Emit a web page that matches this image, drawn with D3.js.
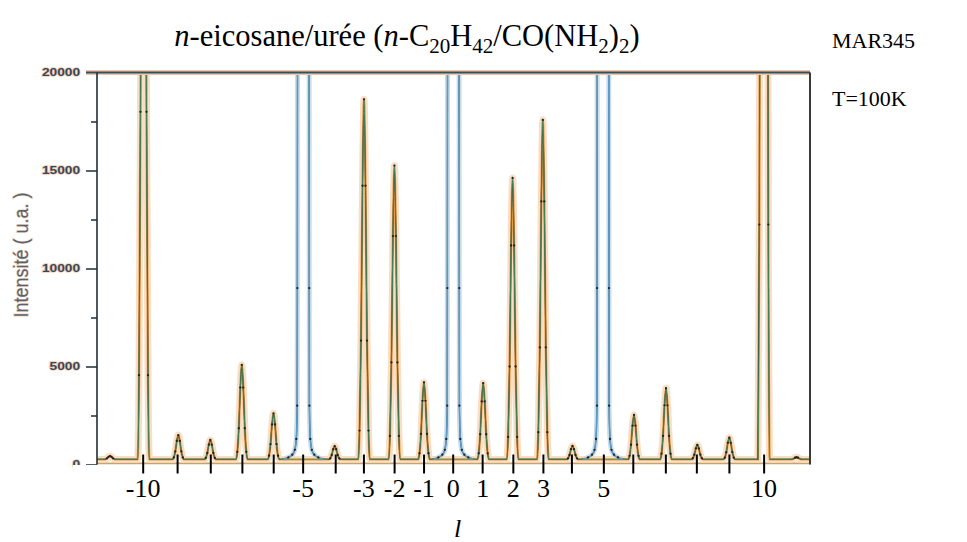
<!DOCTYPE html>
<html><head><meta charset="utf-8">
<script src="https://cdn.jsdelivr.net/npm/d3@7"></script>
<style>body{margin:0;background:#fff} svg{display:block}</style>
</head><body>
<svg id="c" width="967" height="542"></svg>
<script>
// ---- data ----
const tickL = [-10.01,-8.90,-7.83,-6.81,-5.80,-4.85,-3.80,-2.89,-1.90,-0.95,-0.01,0.94,1.93,2.90,3.82,4.85,5.80,6.85,7.85,8.90,10.02];
const tickLabels = ["-10","","","","","-5","","-3","-2","-1","0","1","2","3","","5","","","","","10"];
const yTicks = [0,5000,10000,15000,20000];
const yMinor = [2500,7500,12500,17500];
// fitted (orange/green) reflections : position in l, peak intensity
const peakL   = [-11.08,-10.00,-8.877,-7.845,-6.829,-5.806,-3.832,-2.887,-1.906,-0.952,0.958,1.906,2.881,3.839,5.823,6.855,7.865,8.897,10.01,11.065];
const peakTop = [430,54000,1500,1250,5080,2610,940,18630,15250,4190,4150,14620,17580,944,2525,3890,995,1370,150000,370];
// normalised line shape of a reflection (offset in l, fraction of height)
const profileOffset = [-0.19,-0.145,-0.097,-0.048,0,0.048,0.097,0.145,0.19];
const profileFrac   = [0,0.08,0.33,0.76,1,0.76,0.33,0.08,0];
// very intense (blue) reflections -5, 0, 5 and their measured profile
const braggL = [-4.845,-0.006,4.823];
const braggOffset = [-0.645,-0.484,-0.355,-0.274,-0.226,-0.197,-0.192,-0.187,-0.161,0,0.161,0.187,0.192,0.197,0.226,0.274,0.355,0.484,0.645];
const braggI      = [280,360,500,750,1300,3000,9000,20000,40000,80000,40000,20000,9000,3000,1300,750,500,360,280];
const baselineI = 260;
const domainL = [-11.5, 11.5];

// ---- layout ----
const svg = d3.select("#c");
const x = d3.scaleLinear().domain(domainL).range([97, 810]);
const y = d3.scaleLinear().domain([0, 20000]).range([464.5, 72.5]);

// series
const fit = [[domainL[0], baselineI]];
peakL.forEach((p,i)=>profileOffset.forEach((o,j)=>fit.push([p+o, baselineI+(peakTop[i]-baselineI)*profileFrac[j]])));
fit.push([domainL[1], baselineI]);
const bragg = braggL.map(c=>braggOffset.map((o,j)=>[c+o, braggI[j]]));
const measured = fit.concat(...bragg).sort((a,b)=>a[0]-b[0]);

svg.append("defs").append("clipPath").attr("id","plot")
  .append("rect").attr("x",x(domainL[0])).attr("y",y(20000)).attr("width",x(domainL[1])-x(domainL[0])).attr("height",y(0)-y(20000));

const line = d3.line().x(d=>x(d[0])).y(d=>y(d[1])).curve(d3.curveMonotoneX);

// y-axis title
svg.append("text").attr("transform",`translate(21,255) scale(1.15,1) rotate(-90)`)
  .attr("text-anchor","middle").attr("dominant-baseline","central")
  .style("font-family","'Liberation Sans',Arial,sans-serif").style("font-size","18px")
  .style("fill","#56646e").style("stroke","#f6d8c4").style("stroke-width","1.2px").style("paint-order","stroke")
  .text("Intensité ( u.a. )");

// y axis
const yAxis = svg.append("g").attr("transform",`translate(${x(domainL[0])},0)`)
  .call(d3.axisLeft(y).tickValues(yTicks).tickSize(11).tickPadding(6).tickFormat(d3.format("d")));
yAxis.select(".domain").remove();
yAxis.selectAll(".tick line").attr("stroke","#1f2f38").attr("stroke-width",1.5);
yAxis.selectAll(".tick text")
  .style("font-family","'Liberation Sans',Arial,sans-serif").style("font-size","10px").style("font-weight","bold")
  .style("fill","#34495a").style("stroke","#f7cdb3").style("stroke-width","1.5px").style("paint-order","stroke")
  .attr("textLength",d=>String(d).length*7.6).attr("lengthAdjust","spacingAndGlyphs");
svg.append("g").attr("transform",`translate(${x(domainL[0])},0)`)
  .call(d3.axisLeft(y).tickValues(yMinor).tickSize(6).tickFormat(""))
  .call(g=>g.select(".domain").remove())
  .selectAll(".tick line").attr("stroke","#1f2f38").attr("stroke-width",1.5);

const plot = svg.append("g").attr("clip-path","url(#plot)");

// zero line
plot.append("line").attr("x1",x(domainL[0])).attr("x2",x(domainL[1])).attr("y1",y(0)-1).attr("y2",y(0)-1)
  .attr("stroke","#c9a36a").attr("stroke-width",2);

// blue fits
bragg.forEach(b=>{
  plot.append("path").datum(b).attr("d",line).attr("fill","none").attr("stroke","#c9dcea").attr("stroke-width",5);
});
// orange fit
plot.append("path").datum(fit).attr("d",line).attr("fill","none").attr("stroke","#f8d6b8").attr("stroke-width",7).attr("opacity",0.8);
plot.append("path").datum(fit).attr("d",line).attr("fill","none").attr("stroke","#e39c4a").attr("stroke-width",2.4);
// measured data
plot.append("path").datum(measured).attr("d",line).attr("fill","none").attr("stroke","#2a2a2a").attr("stroke-width",1.1);
// green fit
plot.append("path").datum(fit).attr("d",line).attr("fill","none").attr("stroke","#4f9a62").attr("stroke-width",0.9).attr("opacity",0.9);
bragg.forEach(b=>{
  plot.append("path").datum(b).attr("d",line).attr("fill","none").attr("stroke","#5d9bc6").attr("stroke-width",1.6);
});
plot.selectAll("circle").data(measured.filter(d=>d[1]>baselineI+50)).join("circle")
  .attr("cx",d=>x(d[0])).attr("cy",d=>y(d[1])).attr("r",1.15).attr("fill","#222");

// top frame at 20000
svg.append("line").attr("x1",86).attr("x2",x(domainL[1])).attr("y1",y(20000)).attr("y2",y(20000))
  .attr("stroke","#f6c4a6").attr("stroke-width",5);
svg.append("line").attr("x1",86).attr("x2",x(domainL[1])).attr("y1",y(20000)).attr("y2",y(20000))
  .attr("stroke","#2d5263").attr("stroke-width",2);
// left & right axes
svg.append("line").attr("x1",x(domainL[0])).attr("x2",x(domainL[0])).attr("y1",y(20000)).attr("y2",y(0))
  .attr("stroke","#1f2f38").attr("stroke-width",1.6);
svg.append("line").attr("x1",x(domainL[1])).attr("x2",x(domainL[1])).attr("y1",y(20000)).attr("y2",y(0))
  .attr("stroke","#3a3a3a").attr("stroke-width",2);

// white strip hiding original bottom axis
svg.append("rect").attr("x",73).attr("y",y(0)+0.5).attr("width",760).attr("height",80).attr("fill","#fff");

// l ticks
const lt = svg.append("g");
lt.selectAll("line").data(tickL).join("line")
  .attr("x1",d=>x(d)).attr("x2",d=>x(d)).attr("y1",y(0)-10).attr("y2",y(0)+9)
  .attr("stroke","#000").attr("stroke-width",2);
lt.selectAll("text").data(tickL).join("text")
  .attr("x",d=>x(d)).attr("y",497).attr("text-anchor","middle")
  .style("font-family","'Liberation Serif','Times New Roman',serif").style("font-size","26px").style("fill","#000")
  .text((d,i)=>tickLabels[i]);

svg.append("text").attr("x",x(0)+4).attr("y",537).attr("text-anchor","middle")
  .style("font-family","'Liberation Serif','Times New Roman',serif").style("font-size","26px").style("font-style","italic")
  .text("l");

// title
const serif = "'Liberation Serif','Times New Roman',serif";
const t = svg.append("text").attr("x",407).attr("y",46).attr("text-anchor","middle")
  .style("font-family",serif).style("font-size","30.5px").style("fill","#000");
const parts = [["n","i"],["-eicosane/urée (",""],["n","i"],["-C",""],["20","s"],["H",""],["42","s"],["/CO(NH",""],["2","s"],[")",""],["2","s"],[")",""]];
parts.forEach((p,i)=>{
  const ts = t.append("tspan").text(p[0]);
  if(p[1]==="i") ts.style("font-style","italic");
  if(p[1]==="s") ts.style("font-size","21px").attr("dy",6.5);
  else if(i>0 && parts[i-1][1]==="s") ts.attr("dy",-6.5);
});
svg.append("text").attr("x",832).attr("y",48).style("font-family",serif).style("font-size","22px").text("MAR345");
svg.append("text").attr("x",832).attr("y",106).style("font-family",serif).style("font-size","22px").text("T=100K");
</script>
</body></html>
